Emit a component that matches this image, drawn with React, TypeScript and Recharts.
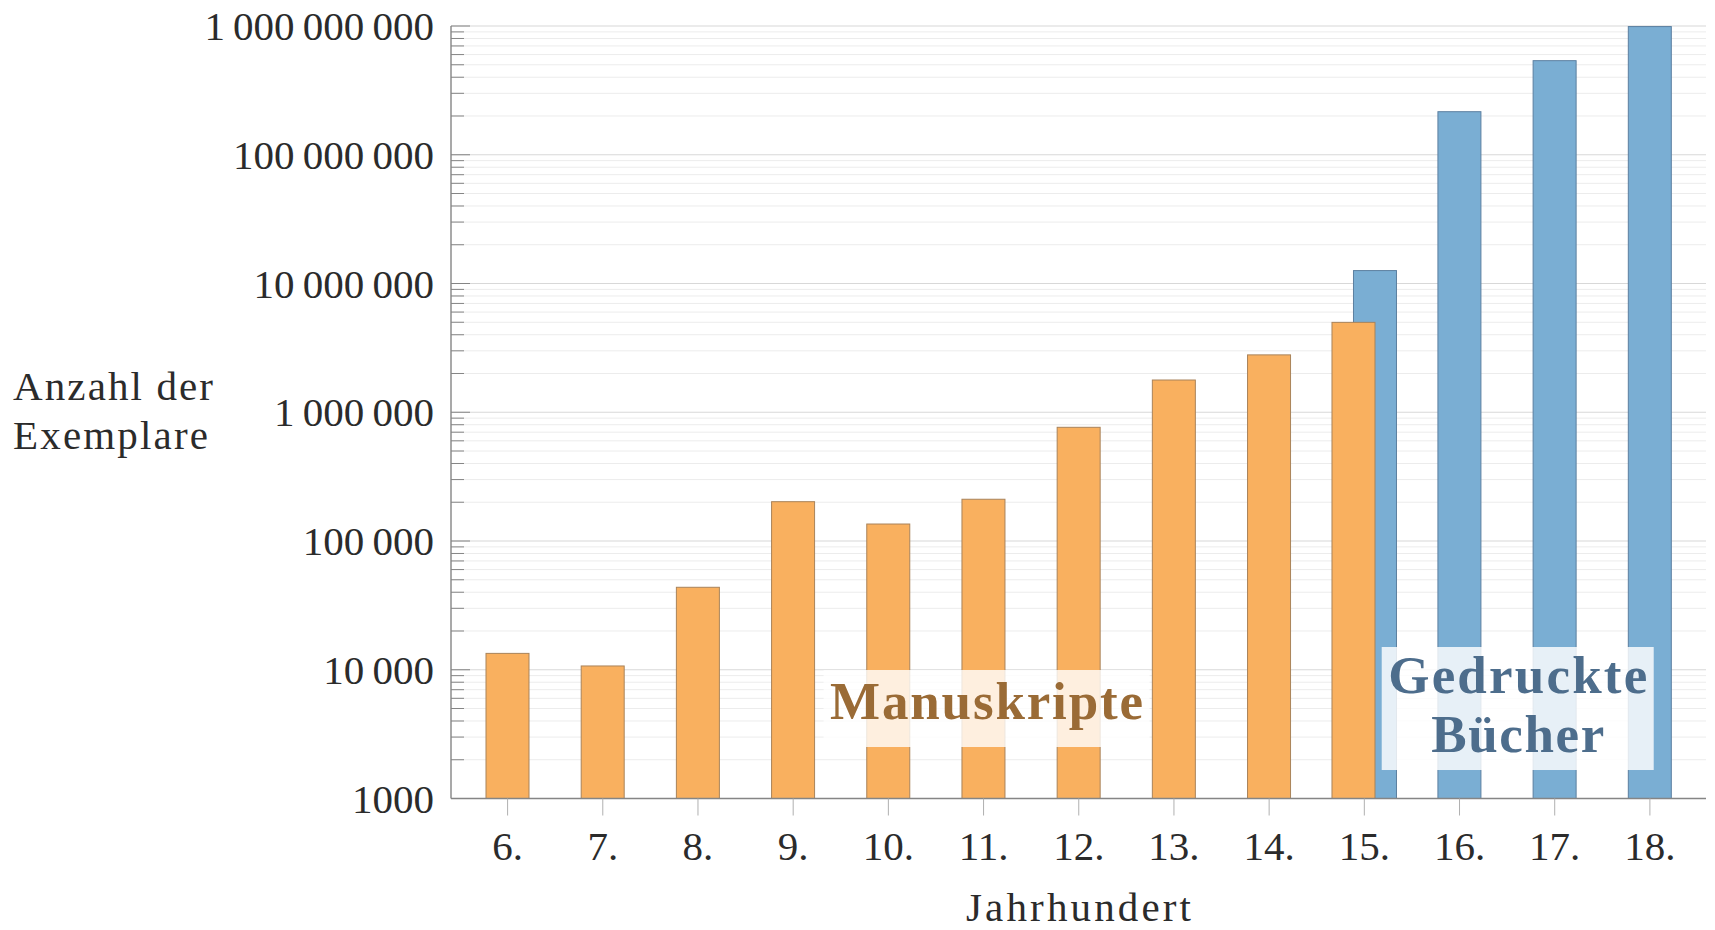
import React from 'react';
import { BarChart, Bar, XAxis, YAxis, CartesianGrid, ReferenceDot } from 'recharts';

// ---- data ----
const centuries = ['6.', '7.', '8.', '9.', '10.', '11.', '12.', '13.', '14.', '15.', '16.', '17.', '18.'];
const manuscripts: (number | null)[] = [13400, 10700, 43700, 202000, 135500, 211000, 764000, 1780000, 2790000, 4990000, null, null, null];
const printedBooks: (number | null)[] = [null, null, null, null, null, null, null, null, null, 12600000, 216000000, 538000000, 990000000];
const majorTicks = [1000, 10000, 100000, 1000000, 10000000, 100000000, 1000000000];
const minorMultipliers = [2, 3, 4, 5, 6, 7, 8, 9];
const annotationManuscripts = { x: '11.', y: 5000, text: 'Manuskripte' };
const annotationPrinted = { x: '17.', y: 5000, lines: ['Gedruckte', 'Bücher'] };

const minorTicks: number[] = [];
majorTicks.slice(0, -1).forEach((d) => minorMultipliers.forEach((m) => minorTicks.push(d * m)));
const allTicks = [...majorTicks, ...minorTicks].sort((a, b) => a - b);

const data = centuries.map((c, i) => ({ century: c, manuscripts: manuscripts[i], printed: printedBooks[i] }));

// ---- styles ----
const FONT = '"Liberation Serif", "Times New Roman", serif';
const TEXT = '#2b2b2b';
const ORANGE = '#f9b05f';
const ORANGE_STROKE = '#a9835a';
const BLUE = '#7aaed3';
const BLUE_STROKE = '#5c7fa0';
const AXIS = '#858585';
const TICK_MARGIN = 17;

const fmt = (v: number) => {
  if (v < 10000) return String(v);
  return String(v).replace(/\B(?=(\d{3})+(?!\d))/g, '\u2009');
};

const YTick = (props: any) => {
  const { x, y, payload } = props;
  const v = payload.value;
  const isMajor = majorTicks.includes(v);
  const ax = x + TICK_MARGIN;
  return (
    <g>
      <line x1={ax} x2={ax + (isMajor ? 19 : 13)} y1={y} y2={y} stroke={AXIS} strokeWidth={1} />
      {isMajor && (
        <text x={x} y={y} dy={14} textAnchor="end" fontFamily={FONT} fontSize={41} fill={TEXT}>
          {fmt(v)}
        </text>
      )}
    </g>
  );
};

const makeShape = (dir: number, key: 'manuscripts' | 'printed', fill: string, stroke: string) => (props: any) => {
  const { x, y, width, height, payload } = props;
  if (payload[key] == null || !isFinite(y) || !isFinite(height)) return <g />;
  const both = payload.manuscripts != null && payload.printed != null;
  const shift = both ? (dir * width) / 4 : 0;
  return <rect x={x + shift} y={y} width={width} height={height} fill={fill} stroke={stroke} strokeWidth={1} />;
};

const ManuscriptLabel = (props: any) => {
  const { cx, cy } = props;
  return (
    <g>
      <rect x={cx - 160} y={cy - 38.5} width={326} height={77} fill="#ffffff" fillOpacity={0.8} />
      <text x={cx + 3} y={cy + 10} textAnchor="middle" fontFamily={FONT} fontWeight="bold" fontSize={53}
        fill="#9a6b36" textLength={313} lengthAdjust="spacing">
        {annotationManuscripts.text}
      </text>
    </g>
  );
};

const PrintedLabel = (props: any) => {
  const { cx, cy } = props;
  const c = cx - 37;
  return (
    <g>
      <rect x={c - 136} y={cy - 61.5} width={272} height={123} fill="#ffffff" fillOpacity={0.82} />
      <text x={c} y={cy - 15.5} textAnchor="middle" fontFamily={FONT} fontWeight="bold" fontSize={53}
        fill="#4d6d8c" textLength={259} lengthAdjust="spacing">
        {annotationPrinted.lines[0]}
      </text>
      <text x={c} y={cy + 43.5} textAnchor="middle" fontFamily={FONT} fontWeight="bold" fontSize={53}
        fill="#4d6d8c" textLength={173} lengthAdjust="spacing">
        {annotationPrinted.lines[1]}
      </text>
    </g>
  );
};

const YLabel = (props: any) => {
  const vb = props.viewBox;
  const mid = vb.y + vb.height / 2;
  return (
    <g>
      <text x={13} y={mid - 12} fontFamily={FONT} fontSize={41} fill={TEXT} textLength={200} lengthAdjust="spacing">Anzahl der</text>
      <text x={13} y={mid + 37} fontFamily={FONT} fontSize={41} fill={TEXT} textLength={195} lengthAdjust="spacing">Exemplare</text>
    </g>
  );
};

const XLabel = (props: any) => {
  const vb = props.viewBox;
  return (
    <text x={vb.x + vb.width / 2} y={vb.y + vb.height - 9} textAnchor="middle" fontFamily={FONT} fontSize={41}
      fill={TEXT} textLength={225} lengthAdjust="spacing">
      Jahrhundert
    </text>
  );
};

export default function App() {
  return (
    <div style={{ position: 'absolute', left: 0, top: 0, background: '#fff' }}>
      <BarChart width={1715} height={930} data={data} margin={{ top: 26, right: 9, bottom: 0, left: 0 }}>
        <CartesianGrid vertical={false} horizontalValues={minorTicks} stroke="#ececec" strokeWidth={1} />
        <CartesianGrid vertical={false} horizontalValues={majorTicks} stroke="#d8d8d8" strokeWidth={1.2} />
        <XAxis
          xAxisId="m"
          dataKey="century"
          interval={0}
          padding={{ left: 9, right: 8.5 }}
          height={131.5}
          stroke={AXIS}
          axisLine={{ stroke: AXIS, strokeWidth: 1.4 }}
          tickLine={{ stroke: '#b0b0b0', strokeWidth: 1 }}
          tickSize={17}
          tickMargin={15}
          tick={{ fill: TEXT, fontSize: 41, fontFamily: FONT }}
          label={{ content: XLabel }}
        />
        <XAxis xAxisId="g" dataKey="century" hide height={0} padding={{ left: 9, right: 8.5 }} />
        <YAxis
          scale="log"
          type="number"
          domain={[1000, 1000000000]}
          allowDataOverflow
          ticks={allTicks}
          interval={0}
          width={451}
          tickSize={0}
          tickMargin={TICK_MARGIN}
          tickLine={false}
          axisLine={{ stroke: AXIS, strokeWidth: 1.4 }}
          tick={YTick}
          label={{ content: YLabel }}
        />
        <Bar xAxisId="g" dataKey="printed" barSize={43} isAnimationActive={false}
          shape={makeShape(1, 'printed', BLUE, BLUE_STROKE)} />
        <Bar xAxisId="m" dataKey="manuscripts" barSize={43} isAnimationActive={false}
          shape={makeShape(-1, 'manuscripts', ORANGE, ORANGE_STROKE)} />
        <ReferenceDot xAxisId="m" x={annotationManuscripts.x} y={annotationManuscripts.y} shape={ManuscriptLabel} />
        <ReferenceDot xAxisId="g" x={annotationPrinted.x} y={annotationPrinted.y} shape={PrintedLabel} />
      </BarChart>
    </div>
  );
}
